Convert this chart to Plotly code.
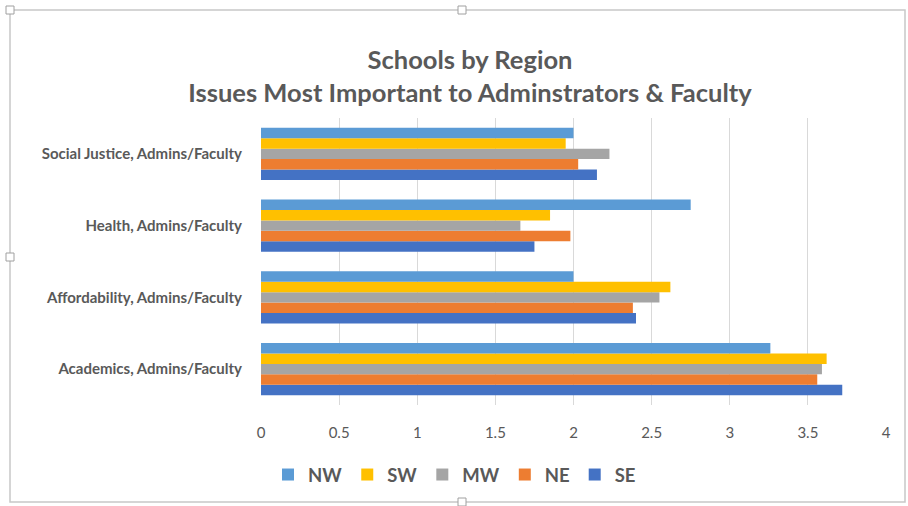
import plotly.graph_objects as go

categories = ["Academics, Admins/Faculty", "Affordability, Admins/Faculty",
              "Health, Admins/Faculty", "Social Justice, Admins/Faculty"]
series_names = ["NW", "SW", "MW", "NE", "SE"]
nw = [3.26, 2.00, 2.75, 2.00]
sw = [3.62, 2.62, 1.85, 1.95]
mw = [3.59, 2.55, 1.66, 2.23]
ne = [3.56, 2.38, 1.98, 2.03]
se = [3.72, 2.40, 1.75, 2.15]
x_ticks = [0, 0.5, 1, 1.5, 2, 2.5, 3, 3.5, 4]

colors = {"NW": "#5B9BD5", "SW": "#FFC000", "MW": "#A5A5A5", "NE": "#ED7D31", "SE": "#4472C4"}
values = {"NW": nw, "SW": sw, "MW": mw, "NE": ne, "SE": se}

W, H = 908, 506
L, R, T, B = 261, 22, 118, 101
fig = go.Figure()
# plotly stacks grouped horizontal bars bottom-up in trace order; SE is lowest
for name in reversed(series_names):
    fig.add_trace(go.Bar(y=categories, x=values[name], name="<b>" + name + "</b>", orientation="h",
                         marker=dict(color=colors[name], line=dict(width=0))))

grey = "#595959"
fig.update_layout(
    width=W, height=H,
    paper_bgcolor="white", plot_bgcolor="white",
    margin=dict(l=L, r=R, t=T, b=B, autoexpand=False),
    barmode="group", bargap=0.27, bargroupgap=0,
    font=dict(family="Lato, Open Sans, sans-serif", color=grey),
    title=dict(text="<b>Schools by Region<br>Issues Most Important to Adminstrators &amp; Faculty</b>",
               x=470 / W, xanchor="center", y=1 - 69 / H, yanchor="middle",
               font=dict(size=25.5, color=grey, family="Lato, Open Sans, sans-serif")),
    legend=dict(orientation="h", traceorder="reversed",
                xref="container", yref="container",
                x=268 / W, xanchor="left", y=1 - 475 / H, yanchor="middle",
                font=dict(size=18.5, color=grey, family="Lato, sans-serif"),
                itemsizing="constant", tracegroupgap=0),
    showlegend=True,
)
fig.update_xaxes(range=[0, 4], tickvals=x_ticks, ticktext=[str(t) for t in x_ticks],
                 showgrid=True, gridcolor="#D9D9D9", gridwidth=1, zeroline=False,
                 showline=False, ticks="", ticklabelstandoff=17,
                 tickfont=dict(size=15, color=grey, family="Lato, sans-serif"))
fig.update_yaxes(categoryorder="array", categoryarray=categories,
                 showgrid=False, showline=False, ticks="", ticklabelstandoff=18,
                 tickfont=dict(size=15, color=grey, family="Lato, sans-serif"),
                 tickprefix="<b>", ticksuffix="</b>")

def px_x(x):
    return (x - L) / (W - L - R)
def px_y(y):
    return (H - B - y) / (H - T - B)

# frame of the embedded chart object with handles
fig.add_shape(type="rect", xref="paper", yref="paper",
              x0=px_x(10), x1=px_x(905), y0=px_y(502), y1=px_y(10),
              line=dict(color="#C8C8C8", width=1.5), layer="below")
for hx, hy in [(10, 10), (462, 10), (10, 257), (462, 502)]:
    fig.add_shape(type="rect", xref="paper", yref="paper",
                  x0=px_x(hx - 4), x1=px_x(hx + 4), y0=px_y(hy + 4), y1=px_y(hy - 4),
                  line=dict(color="#A0A0A0", width=1), fillcolor="white")

fig.write_html("out.html", config={"displayModeBar": False},
               post_script="document.body.style.margin='0';")
